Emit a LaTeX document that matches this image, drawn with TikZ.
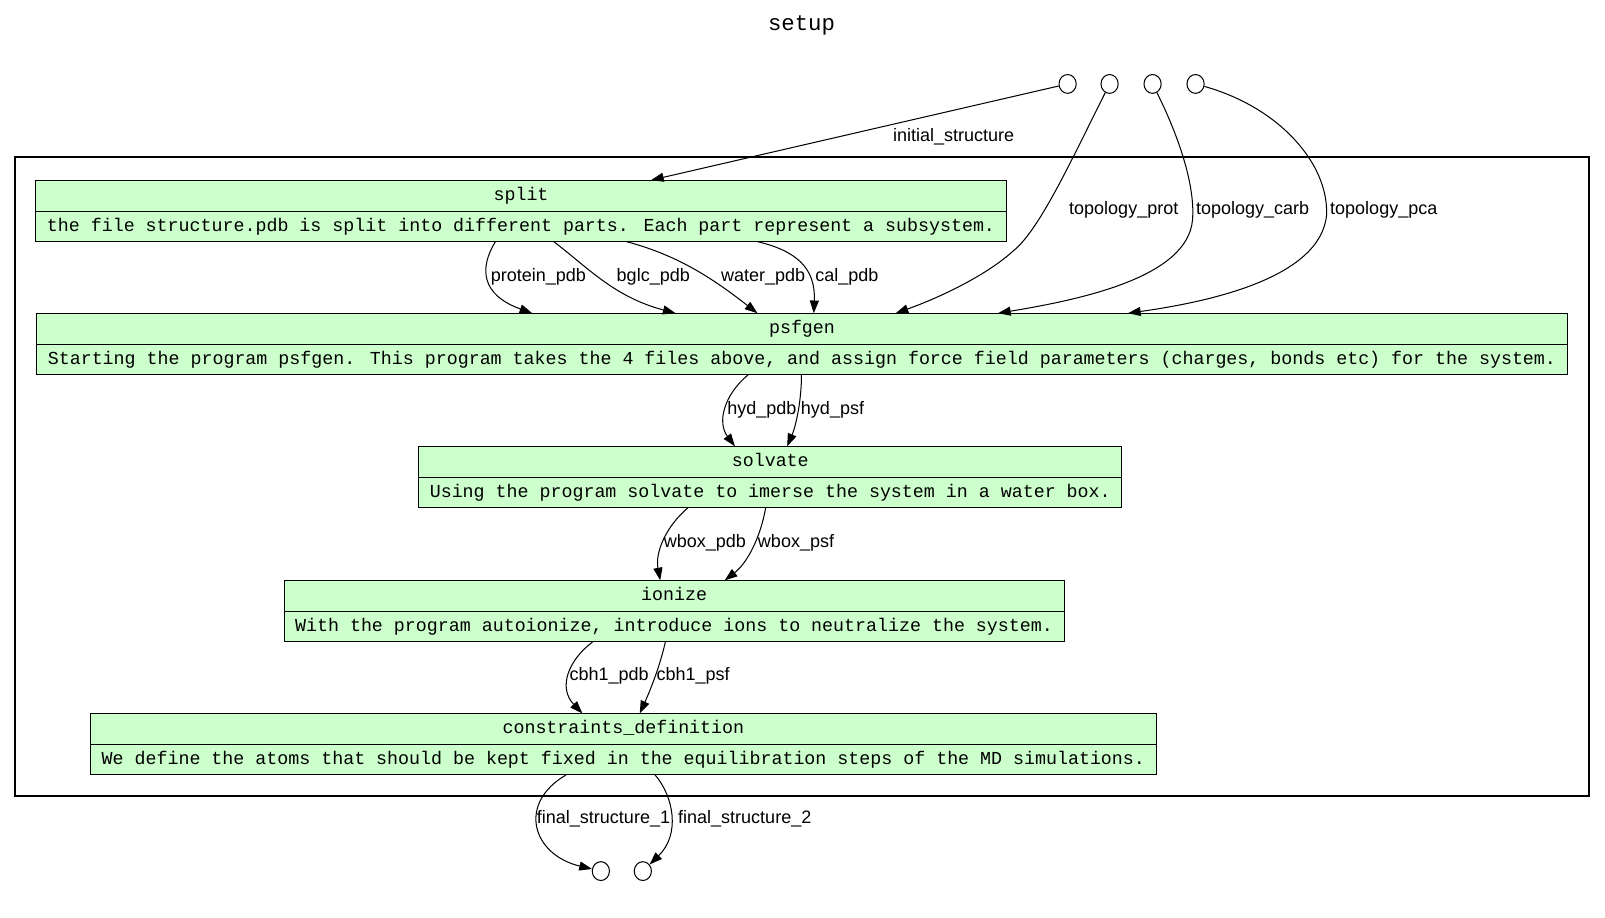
\documentclass[tikz,border=0pt]{standalone}
\usepackage{fontspec}
\usetikzlibrary{shapes.multipart, shapes.geometric, arrows.meta}
\newfontfamily\taskfont{Liberation Mono}
\newfontfamily\edgefont{Liberation Sans}
\definecolor{taskgreen}{HTML}{CCFFCC}

\begin{document}
\begin{tikzpicture}[x=0.5pt, y=-0.5pt,
	task/.style={rectangle split, rectangle split parts=2, draw, fill=taskgreen, anchor=north, inner xsep=5.4pt, inner ysep=2.8pt, text height=6.6pt, text depth=2.4pt, line width=0.5pt, font=\taskfont\fontsize{8.94}{10}\selectfont},
	port/.style={ellipse, draw, minimum width=8.4pt, minimum height=9.2pt, inner sep=0pt, line width=0.5pt},
	flow/.style={line width=0.5pt, -{Triangle[length=6.2pt, width=4.4pt]}},
	tag/.style={anchor=west, inner sep=0.5pt, font=\edgefont\fontsize{8.8}{10}\selectfont}]
	\useasboundingbox (0,0) rectangle (1568,896);
	
	\node[font=\taskfont\fontsize{10.9}{12}\selectfont] (title) at (783,25) {setup};
	\draw[line width=1pt] (15,153) rectangle (1552,778);
	
	\node[port] (protin) at (1043,82) {};
	\node[port] (topoprot) at (1084,82) {};
	\node[port] (topocarb) at (1126,82) {};
	\node[port] (topopca) at (1168,82) {};
	\node[port] (finalone) at (587,851) {};
	\node[port] (finaltwo) at (628,851) {};
	
	\node[task] (split) at (509,176) {split \nodepart{two} the file structure.pdb is split into different parts. Each part represent a subsystem.};
	\node[task] (psfgen) at (783.5,306) {psfgen \nodepart{two} Starting the program psfgen. This program takes the 4 files above, and assign force field parameters (charges, bonds etc) for the system.};
	\node[task] (solvate) at (752.5,436) {solvate \nodepart{two} Using the program solvate to imerse the system in a water box.};
	\node[task] (ionize) at (658.5,567) {ionize \nodepart{two} With the program autoionize, introduce ions to neutralize the system.};
	\node[task] (constr) at (609,697) {constraints\_definition \nodepart{two} We define the atoms that should be kept fixed in the equilibration steps of the MD simulations.};
	
	\draw[flow] (protin) -- (636,0 |- split.north) node[tag, anchor=north west] at (871,124) {initial\_structure};
	\draw[flow] (topoprot) .. controls (1045,160) and (1015,225) .. (990,245) .. controls (965,268) and (920,290) .. (875,0 |- psfgen.north) node[tag] at (1043,205) {topology\_prot};
	\draw[flow] (topocarb) .. controls (1150,130) and (1168,180) .. (1165,215) .. controls (1160,270) and (1060,292) .. (975,0 |- psfgen.north) node[tag] at (1167,205) {topology\_carb};
	\draw[flow] (topopca) .. controls (1250,105) and (1298,160) .. (1296,210) .. controls (1290,272) and (1180,295) .. (1102,0 |- psfgen.north) node[tag] at (1298,205) {topology\_pca};
	
	\draw[flow] (484,0 |- split.south) .. controls (468,262) and (470,288) .. (520,0 |- psfgen.north) node[tag] at (478,270) {protein\_pdb};
	\draw[flow] (541,0 |- split.south) .. controls (575,262) and (600,290) .. (660,0 |- psfgen.north) node[tag] at (601,270) {bglc\_pdb};
	\draw[flow] (612,0 |- split.south) .. controls (665,250) and (700,275) .. (740,0 |- psfgen.north) node[tag] at (703,270) {water\_pdb};
	\draw[flow] (740,0 |- split.south) .. controls (778,245) and (797,262) .. (795,0 |- psfgen.north) node[tag] at (795,270) {cal\_pdb};
	
	\draw[flow] (731,0 |- psfgen.south) .. controls (708,385) and (700,412) .. (718,0 |- solvate.north) node[tag] at (709,400) {hyd\_pdb};
	\draw[flow] (783,0 |- psfgen.south) .. controls (783,390) and (778,415) .. (769,0 |- solvate.north) node[tag] at (781,400) {hyd\_psf};
	
	\draw[flow] (672,0 |- solvate.south) .. controls (650,515) and (640,540) .. (645,0 |- ionize.north) node[tag] at (647,530) {wbox\_pdb};
	\draw[flow] (748,0 |- solvate.south) .. controls (743,525) and (730,550) .. (708,0 |- ionize.north) node[tag] at (739,530) {wbox\_psf};
	
	\draw[flow] (579,0 |- ionize.south) .. controls (555,645) and (545,672) .. (569,0 |- constr.north) node[tag] at (555,660) {cbh1\_pdb};
	\draw[flow] (650,0 |- ionize.south) .. controls (645,650) and (635,675) .. (625,0 |- constr.north) node[tag] at (640,660) {cbh1\_psf};
	
	\draw[flow] (553,0 |- constr.south) .. controls (505,785) and (520,835) .. (finalone) node[tag] at (523,800) {final\_structure\_1};
	\draw[flow] (640,0 |- constr.south) .. controls (658,778) and (665,815) .. (finaltwo) node[tag] at (661,800) {final\_structure\_2};
\end{tikzpicture}
\end{document}
